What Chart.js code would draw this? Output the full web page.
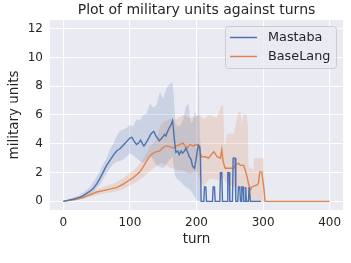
<!DOCTYPE html>
<html>
<head>
<meta charset="utf-8">
<script src="https://cdn.jsdelivr.net/npm/chart.js@4.4.1/dist/chart.umd.min.js"></script>
<style>
  html, body { margin: 0; padding: 0; background: #ffffff; }
  #wrap { width: 351px; height: 263px; }
</style>
</head>
<body>
<div id="wrap"><canvas id="unitsChart"></canvas></div>
<script>
// Mastaba mean line
const mastabaTurns = [0, 5, 10, 15, 20, 25, 30, 35, 40, 45, 50, 55, 60, 65, 70, 75, 80, 85, 90, 95, 100, 103, 106, 110, 113, 116, 119, 121, 124, 126, 129, 131, 134, 136, 139, 142, 144, 147, 149, 152, 154, 157, 159, 162, 164, 165, 167, 169, 172, 174, 177, 179, 182, 184, 187, 189, 192, 194, 197, 199, 201, 203, 205, 206,
  207, 211, 212, 214, 215, 224, 225, 227, 228, 235, 236, 238, 239, 246, 247, 249, 250, 254, 255, 258, 259, 262, 263, 265, 266, 267, 268, 270, 271, 273, 274, 275, 278, 279, 281, 297];
const mastabaMean = [0, 0.05, 0.1, 0.15, 0.22, 0.3, 0.4, 0.55, 0.7, 0.9, 1.2, 1.6, 2.05, 2.5, 2.85, 3.2, 3.5, 3.65, 3.9, 4.15, 4.4, 4.45, 4.2, 3.95, 4.05, 4.25, 4.0, 3.85, 4.05, 4.2, 4.45, 4.65, 4.8, 4.85, 4.55, 4.35, 4.2, 4.35, 4.45, 4.65, 4.55, 4.9, 5.1, 5.35, 5.6, 5.2, 4.2, 3.4, 3.5, 3.25, 3.5, 3.35, 3.5, 3.7, 3.4, 3.1, 2.9, 2.45, 2.3, 2.8, 3.5, 3.9, 3.8, 3.0,
  0, 0, 1, 1, 0, 0, 1, 1, 0, 0, 2, 2, 0, 0, 2, 2, 0, 0, 3, 3, 0, 0, 1, 1, 0, 0, 1, 1, 0, 0, 1, 0, 0, 1, 0, 0];

// Mastaba confidence band
const mastabaBandTurns = [0, 10, 20, 30, 40, 50, 55, 60, 65, 70, 75, 80, 85, 90, 95, 100, 105, 110, 115, 120, 125, 130, 135, 140, 145, 150, 155, 160, 164, 166, 168, 172, 176, 180, 184, 188, 191, 194, 197, 200, 202, 203, 204, 205, 206, 207];
const mastabaLow = [0, 0.05, 0.12, 0.2, 0.45, 0.9, 1.15, 1.55, 1.95, 2.3, 2.6, 2.75, 2.8, 2.9, 3.1, 3.35, 3.2, 3.0, 2.8, 2.7, 2.9, 3.25, 2.9, 2.5, 2.4, 2.3, 2.6, 2.9, 3.1, 2.4, 1.75, 1.5, 1.4, 1.15, 1.0, 0.9, 0.75, 0.6, 0.35, 0.1, 0, 0, 0, 0, 0, 0];
const mastabaHigh = [0, 0.2, 0.35, 0.6, 1.0, 1.7, 2.1, 2.6, 3.0, 3.6, 4.0, 4.5, 4.9, 5.0, 5.1, 5.3, 5.2, 5.7, 5.6, 6.0, 6.1, 6.8, 6.5, 6.7, 7.6, 7.1, 7.9, 8.15, 8.25, 7.3, 5.45, 5.2, 5.3, 5.7, 6.6, 6.8, 5.5, 5.5, 6.2, 5.9, 6.0, 12.0, 7.0, 4.5, 4.0, 0];

// BaseLang mean line
const baseTurns = [0, 10, 20, 30, 40, 50, 60, 70, 80, 90, 100, 105, 110, 115, 120, 125, 130, 135, 140, 145, 150, 155, 160, 165, 170, 175, 180, 183, 186, 190, 195, 200, 203, 206, 208, 213, 218, 223, 226, 231, 236, 238, 240, 243, 256, 258, 263, 266, 271, 273, 276, 278, 281, 283, 291, 293, 295, 298, 301, 303, 400];
const baseMean = [0, 0.08, 0.15, 0.28, 0.45, 0.65, 0.75, 0.85, 0.95, 1.2, 1.5, 1.65, 1.85, 2.05, 2.4, 2.8, 3.15, 3.35, 3.45, 3.5, 3.75, 3.85, 3.8, 3.7, 3.85, 3.95, 4.05, 3.85, 3.7, 3.95, 3.85, 3.95, 3.9, 3.3, 3.1, 3.1, 3.0, 3.3, 3.45, 3.1, 3.0, 3.6, 2.75, 2.3, 2.3, 2.5, 2.65, 2.5, 2.5, 2.2, 1.7, 1.25, 0.8, 1.0, 1.15, 1.25, 2.05, 2.05, 1.0, 0, 0];

// BaseLang confidence band
const baseBandTurns = [0, 10, 20, 30, 40, 50, 60, 70, 80, 90, 100, 110, 120, 130, 140, 145, 150, 160, 170, 180, 190, 200, 205, 210, 220, 230, 238, 240, 242, 246, 256, 260, 263, 266, 268, 271, 275, 277, 278, 285, 286, 301, 303, 400];
const baseLow = [0, 0.04, 0.08, 0.18, 0.3, 0.45, 0.55, 0.6, 0.7, 0.85, 1.1, 1.35, 1.7, 2.1, 2.45, 2.7, 2.6, 2.35, 2.2, 2.15, 1.9, 2.1, 1.5, 1.0, 1.6, 1.5, 1.5, 1.7, 1.5, 1.25, 1.0, 1.0, 1.05, 1.0, 0.95, 0.95, 0.9, 0.5, 0, 0, 0, 0, 0, 0];
const baseHigh = [0, 0.12, 0.22, 0.38, 0.6, 0.85, 1.0, 1.15, 1.35, 1.6, 1.95, 2.35, 2.95, 3.8, 4.3, 5.2, 5.5, 5.7, 5.7, 6.0, 5.8, 5.9, 6.0, 5.7, 6.0, 5.8, 6.7, 6.6, 3.8, 4.7, 4.7, 5.6, 6.2, 6.3, 5.3, 6.1, 6.0, 5.3, 2.4, 2.2, 3.0, 3.0, 0, 0];

const xTicks = [0, 100, 200, 300, 400];
const yTicks = [0, 2, 4, 6, 8, 10, 12];

const blue = '#4c72b0';
const orange = '#dd8452';
const textColor = '#262626';
const fontFamily = '"DejaVu Sans", sans-serif';

function toPoints(xs, ys) {
    return xs.map((x, i) => ({ x: x, y: ys[i] }));
}

// legend drawn inside the plot, seaborn style
const boxLegend = {
    id: 'boxLegend',
    afterDraw(chart) {
        const ctx = chart.ctx;
        const area = chart.chartArea;
        const items = chart.data.datasets.filter(d => d.showInLegend);
        const w = 111, h = 42;
        const x0 = area.right - 7 - w;
        const y0 = area.top + 6;
        ctx.save();
        ctx.beginPath();
        ctx.roundRect(x0 + 0.5, y0 + 0.5, w, h, 3);
        ctx.fillStyle = 'rgba(234,234,242,0.8)';
        ctx.fill();
        ctx.strokeStyle = '#cccccc';
        ctx.lineWidth = 1;
        ctx.stroke();
        ctx.font = '12.8px ' + fontFamily;
        ctx.textBaseline = 'middle';
        items.forEach((d, i) => {
            const y = y0 + 11.5 + i * 19;
            ctx.beginPath();
            ctx.moveTo(x0 + 5, y);
            ctx.lineTo(x0 + 32, y);
            ctx.strokeStyle = d.borderColor;
            ctx.lineWidth = 1.5;
            ctx.stroke();
            ctx.fillStyle = textColor;
            ctx.fillText(d.label, x0 + 43, y + 0.5);
        });
        ctx.restore();
    }
};

const bgPlugin = {
    id: 'plotBackground',
    beforeDraw(chart) {
        const a = chart.chartArea;
        chart.ctx.save();
        chart.ctx.fillStyle = '#eaeaf2';
        chart.ctx.fillRect(a.left, a.top, a.right - a.left, a.bottom - a.top);
        chart.ctx.restore();
    }
};

const lineStyle = { pointRadius: 0, borderWidth: 1.4, fill: false, tension: 0 };
const bandStyle = { pointRadius: 0, borderWidth: 0, borderColor: 'rgba(0,0,0,0)', tension: 0 };

const ctx = document.getElementById('unitsChart').getContext('2d');
new Chart(ctx, {
    type: 'line',
    data: {
        datasets: [
            Object.assign({ label: 'Mastaba', data: toPoints(mastabaTurns, mastabaMean), borderColor: blue, showInLegend: true }, lineStyle),
            Object.assign({ label: 'BaseLang', data: toPoints(baseTurns, baseMean), borderColor: orange, showInLegend: true }, lineStyle),
            Object.assign({ label: 'Mastaba high', data: toPoints(mastabaBandTurns, mastabaHigh), fill: '+1', backgroundColor: 'rgba(76,114,176,0.2)' }, bandStyle),
            Object.assign({ label: 'Mastaba low', data: toPoints(mastabaBandTurns, mastabaLow), fill: false }, bandStyle),
            Object.assign({ label: 'BaseLang high', data: toPoints(baseBandTurns, baseHigh), fill: '+1', backgroundColor: 'rgba(221,132,82,0.2)' }, bandStyle),
            Object.assign({ label: 'BaseLang low', data: toPoints(baseBandTurns, baseLow), fill: false }, bandStyle)
        ]
    },
    options: {
        responsive: true,
        maintainAspectRatio: false,
        animation: false,
        devicePixelRatio: 1,
        layout: { padding: { left: 2, right: 8, top: 0, bottom: 11 } },
        plugins: {
            legend: { display: false },
            tooltip: { enabled: false },
            filler: { drawTime: 'beforeDatasetsDraw' },
            title: {
                display: true,
                fullSize: false,
                text: 'Plot of military units against turns',
                color: textColor,
                font: { family: fontFamily, size: 14, weight: 'normal' },
                padding: { top: 1.5, bottom: 1.7 }
            }
        },
        scales: {
            x: {
                type: 'linear',
                min: -20,
                max: 420,
                afterBuildTicks: (scale) => { scale.ticks = xTicks.map(v => ({ value: v })); },
                afterFit: (scale) => { scale.height = 42; },
                ticks: { color: textColor, font: { family: fontFamily, size: 12 }, padding: 6, maxRotation: 0 },
                grid: { color: '#ffffff', lineWidth: 1.1, drawTicks: false },
                border: { display: false },
                title: { display: true, text: 'turn', color: textColor, font: { family: fontFamily, size: 13.5 }, padding: { top: 4, bottom: 4 } }
            },
            y: {
                type: 'linear',
                min: -0.6,
                max: 12.6,
                afterBuildTicks: (scale) => { scale.ticks = yTicks.map(v => ({ value: v })); },
                afterFit: (scale) => { scale.width = 48; },
                ticks: { color: textColor, font: { family: fontFamily, size: 12 }, padding: 7 },
                grid: { color: '#ffffff', lineWidth: 1.1, drawTicks: false },
                border: { display: false },
                title: { display: true, text: 'military units', color: textColor, font: { family: fontFamily, size: 13.5 }, padding: { top: 4, bottom: 4 } }
            }
        }
    },
    plugins: [bgPlugin, boxLegend]
});
</script>
</body>
</html>
